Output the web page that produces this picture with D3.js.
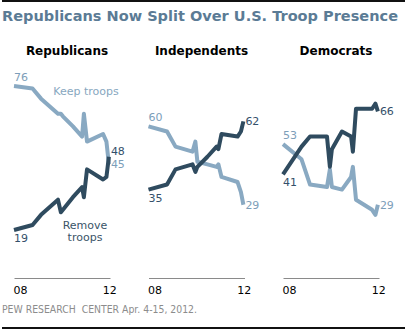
<!DOCTYPE html>
<html>
<head>
<meta charset="utf-8">
<script src="https://cdn.jsdelivr.net/npm/d3@7"></script>
<style>
    body { margin: 0; background: #fff; }
    svg { display: block; font-family: "DejaVu Sans", Verdana, sans-serif; }
</style>
</head>
<body>
<svg id="chart"></svg>
<script>
var partyNames = ['Republicans', 'Independents', 'Democrats'];

// Survey dates as decimal years
var surveyDates = [2008.00, 2008.83, 2009.21, 2009.97, 2010.10, 2010.19, 2010.64,
    2011.05, 2011.13, 2011.27, 2011.99, 2012.14, 2012.25];

// Percent saying keep troops in Afghanistan / remove troops asap
var repKeep   = [76, 75, 71, 65, 65, 64, 60, 56, 65, 54, 57, 54, 45];
var repRemove = [19, 21, 25, 31, 26, 27, 32, 36, 32, 43, 39, 40, 48];
var indKeep   = [60, 58, 52, 50, 54, 46, 45, 44, 45, 40, 38, 34, 29];
var indRemove = [35, 37, 43, 45, 42, 44, 48, 52, 51, 57, 56, 58, 62];
var demKeep   = [53, 47, 37, 36, 43, 36, 35, 40, 44, 31, 27, 25, 29];
var demRemove = [41, 52, 56, 56, 44, 51, 58, 56, 50, 67, 67, 69, 66];

var tickYears = [2008, 2012];
var tickLabels = ['08', '12'];

var w = 405;
var h = 330;
var darkColor = '#2f4b5f';
var lightColor = '#89a9c2';

var panels = [
    {name: partyNames[0], keep: repKeep, remove: repRemove},
    {name: partyNames[1], keep: indKeep, remove: indRemove},
    {name: partyNames[2], keep: demKeep, remove: demRemove}
];

var svg = d3.select('svg#chart')
    .attr('width', w)
    .attr('height', h);

var panelX = d3.scaleBand()
    .domain(partyNames)
    .range([14, 417.5]);

var x = d3.scaleLinear()
    .domain([2008, 2012.3])
    .range([0, 96]);

var y = d3.scaleLinear()
    .domain([0, 100])
    .range([278, 25.4]);

var line = d3.line()
    .x(function(d) { return x(d.date); })
    .y(function(d) { return y(d.value); });

function toPoints(values) {
    return values.map(function(v, i) {
        return {date: surveyDates[i], value: v};
    });
}


// Frame, title and source
svg.append('rect')
    .attr('x', 2)
    .attr('y', 0)
    .attr('width', w - 2)
    .attr('height', 2)
    .attr('fill', '#111');

svg.append('rect')
    .attr('x', 2)
    .attr('y', 327)
    .attr('width', w - 2)
    .attr('height', 2)
    .attr('fill', '#111');

svg.append('text')
    .attr('x', 2)
    .attr('y', 21)
    .attr('textLength', 396)
    .attr('lengthAdjust', 'spacingAndGlyphs')
    .style('font-size', '14.5px')
    .style('font-weight', 'bold')
    .attr('fill', '#5b7b95')
    .text('Republicans Now Split Over U.S. Troop Presence');

svg.append('text')
    .attr('x', 2)
    .attr('y', 313)
    .attr('textLength', 195)
    .attr('lengthAdjust', 'spacingAndGlyphs')
    .style('font-size', '10px')
    .style('white-space', 'pre')
    .attr('fill', '#8c8c8c')
    .text('PEW RESEARCH  CENTER Apr. 4-15, 2012.');


// One small multiple per party
function drawPanel(p) {
    var g = svg.append('g')
        .attr('transform', 'translate(' + panelX(p.name) + ',0)');

    g.append('text')
        .attr('x', 53)
        .attr('y', 55)
        .attr('text-anchor', 'middle')
        .style('font-size', '12px')
        .style('font-weight', 'bold')
        .attr('fill', '#000')
        .text(p.name);

    var axis = d3.axisBottom(x)
        .tickValues(tickYears)
        .tickFormat(function(d, i) { return tickLabels[i]; })
        .tickSize(0)
        .tickPadding(8);

    var axisG = g.append('g')
        .attr('transform', 'translate(0,' + y(0) + ')')
        .call(axis);

    axisG.select('.domain').attr('stroke', '#8a8a8a');
    axisG.selectAll('text')
        .attr('text-anchor', 'start')
        .attr('x', -1)
        .style('font-family', '"DejaVu Sans", Verdana, sans-serif')
        .style('font-size', '11px')
        .attr('fill', '#000');

    var series = [
        {values: p.keep, color: lightColor, labelColor: '#7d9eb9'},
        {values: p.remove, color: darkColor, labelColor: '#34506a'}
    ];

    g.selectAll('path.trend')
        .data(series)
        .join('path')
        .classed('trend', true)
        .attr('d', function(d) { return line(toPoints(d.values)); })
        .attr('fill', 'none')
        .attr('stroke', function(d) { return d.color; })
        .attr('stroke-width', 4)
        .attr('stroke-linejoin', 'round');

    // First value: higher series labelled above its line, lower one below
    var firstHigh = p.keep[0] > p.remove[0] ? 0 : 1;
    g.selectAll('text.start')
        .data(series)
        .join('text')
        .classed('start', true)
        .attr('x', x(surveyDates[0]))
        .attr('y', function(d, i) {
            return y(d.values[0]) + (i === firstHigh ? -5 : 12);
        })
        .style('font-size', '11px')
        .attr('fill', function(d) { return d.labelColor; })
        .text(function(d) { return d.values[0]; });

    // Last value: beside the line end, kept apart when the ends are close
    var last = surveyDates.length - 1;
    var ends = series.map(function(d) { return y(d.values[last]) + 4; });
    var gap = 13;
    if(Math.abs(ends[0] - ends[1]) < gap) {
        var hi = ends[0] < ends[1] ? 0 : 1;
        ends[hi] = ends[1 - hi] - gap;
    }

    g.selectAll('text.end')
        .data(series)
        .join('text')
        .classed('end', true)
        .attr('x', x(surveyDates[last]) + 2)
        .attr('y', function(d, i) { return ends[i]; })
        .style('font-size', '11px')
        .attr('fill', function(d) { return d.labelColor; })
        .text(function(d) { return d.values[last]; });

    return g;
}

var panelGroups = panels.map(drawPanel);

// Series names sit in the Republicans panel only
var repPanel = panelGroups[0];

repPanel.append('text')
    .attr('x', 72)
    .attr('y', 95)
    .attr('text-anchor', 'middle')
    .style('font-size', '11px')
    .attr('fill', '#87a7c0')
    .text('Keep troops');

repPanel.append('text')
    .attr('x', 71)
    .attr('y', 229)
    .attr('text-anchor', 'middle')
    .style('font-size', '11px')
    .attr('fill', '#3a5468')
    .selectAll('tspan')
    .data(['Remove', 'troops'])
    .join('tspan')
    .attr('x', 71)
    .attr('dy', function(d, i) { return i === 0 ? 0 : 11.5; })
    .text(function(d) { return d; });
</script>
</body>
</html>
